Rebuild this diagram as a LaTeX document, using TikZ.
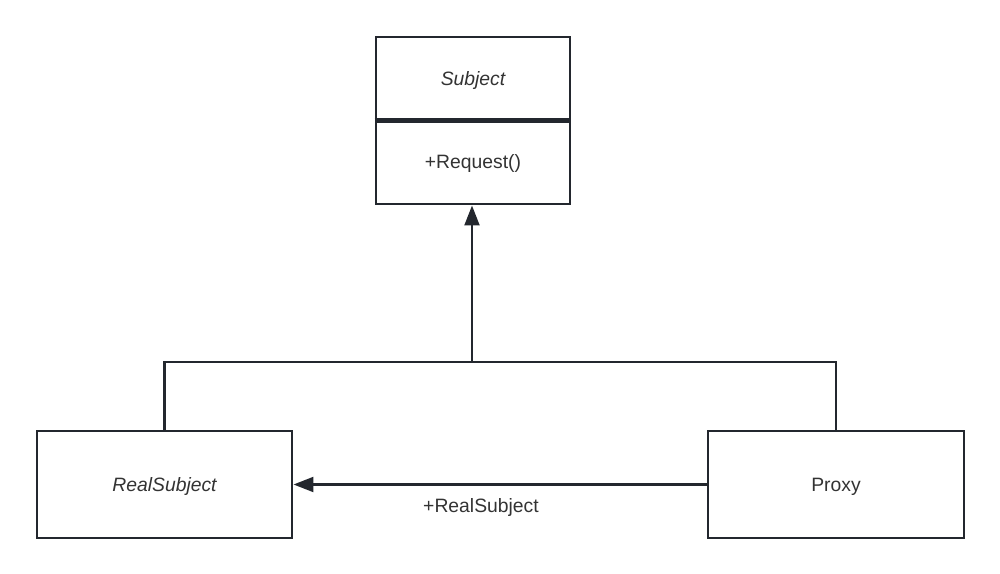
\documentclass[tikz,border=0pt]{standalone}
\usepackage{fontspec}
\setmainfont{Liberation Sans}
\usetikzlibrary{arrows.meta}
\definecolor{umlline}{HTML}{23272E}
\definecolor{umltext}{HTML}{333333}
\tikzset {
    x=0.75pt, y=-0.75pt,
    >={Triangle[length=15pt, width=11pt]},
    every node/.style={font=\fontsize{14.5pt}{17pt}\selectfont, text=umltext},
    classbox/.style={draw=umlline, line width=2.1pt, fill=white, inner sep=0pt,
        text height=10.6pt, text depth=0pt},
    link/.style={draw=umlline, line width=2.2pt, line join=miter}
}
\begin{document}
\begin{tikzpicture}
    \useasboundingbox (0,0) rectangle (1000,574);

    \node[classbox, minimum width=145.5pt, minimum height=61.5pt] (subject) at (473,78) {\itshape Subject};
    \node[classbox, minimum width=145.5pt, minimum height=63.75pt] (request) at (473,161.5) {+Request()};
    \draw[umlline, line width=4pt] (subject.south west) -- (subject.south east);

    \node[classbox, minimum width=191.25pt, minimum height=80.25pt] (real) at (164.5,484.5) {\itshape RealSubject};
    \node[classbox, minimum width=192pt, minimum height=80.25pt] (proxy) at (836,484.5) {Proxy};

    \coordinate (join) at (472,362);
    \draw[link] (real.north) |- (join) -| (proxy.north);
    \draw[link, ->] (join) -- (request.south -| join);

    \draw[link, ->] (proxy.west) -- node[pos=0.546, below=6pt] {+RealSubject} (real.east);
\end{tikzpicture}
\end{document}
